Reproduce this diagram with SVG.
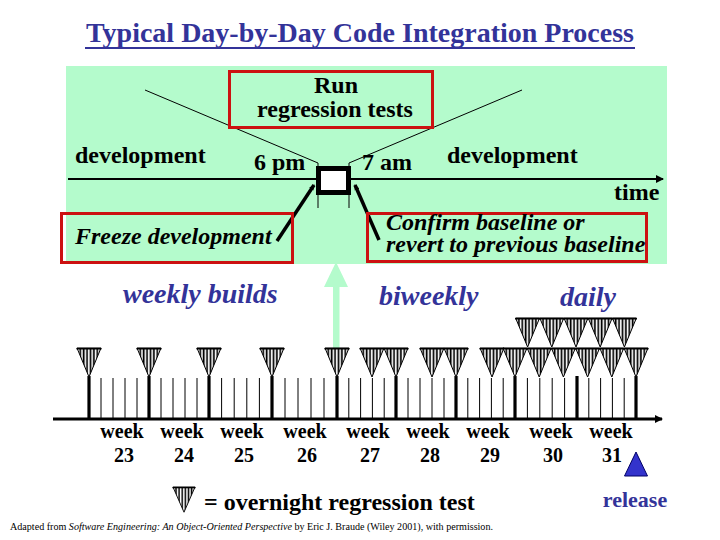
<svg xmlns="http://www.w3.org/2000/svg" width="720" height="540" viewBox="0 0 720 540">
<style>
.b{font-family:"Liberation Serif","Times New Roman",serif;font-weight:bold;fill:#000}
.bi{font-family:"Liberation Serif","Times New Roman",serif;font-weight:bold;font-style:italic}
.blue{fill:#333399}
.red{fill:none;stroke:#cc1111;stroke-width:3}
.thin{stroke:#000;stroke-width:1;fill:none}
.tick{stroke:#000;stroke-width:1}
.wk{stroke:#000;stroke-width:3.2}
.wl{font-family:"Liberation Serif","Times New Roman",serif;font-weight:bold;font-size:20px;text-anchor:middle}
</style>
<defs>
<pattern id="stripes" patternUnits="userSpaceOnUse" width="3.4" height="10"><rect x="0.6" width="1.7" height="10" fill="#000"/></pattern>
<g id="tri">
<polygon points="-12,0 12,0 0,29" fill="#fff"/>
<polygon points="-12,0 12,0 0,29" fill="url(#stripes)" stroke="#000" stroke-width="1"/>
<line x1="-12.5" y1="0.7" x2="12.5" y2="0.7" stroke="#000" stroke-width="1.6"/>
</g>
<marker id="ah" markerWidth="8" markerHeight="8" refX="7" refY="4" orient="auto" markerUnits="userSpaceOnUse">
<path d="M0,0 L8,4 L0,8 Z" fill="#000"/>
</marker>
<marker id="ah2" markerWidth="6" markerHeight="6" refX="5" refY="3" orient="auto" markerUnits="userSpaceOnUse">
<path d="M0,0.5 L6,3 L0,5.5 Z" fill="#000"/>
</marker>
</defs>

<rect width="720" height="540" fill="#fff"/>

<g id="title">
<text x="86" y="42" class="b blue" font-size="28" textLength="548" lengthAdjust="spacingAndGlyphs">Typical Day-by-Day Code Integration Process</text>
<line x1="85" y1="48" x2="635" y2="48" stroke="#333399" stroke-width="2"/>
</g>

<g id="panel">
<rect x="66" y="66" width="601" height="198" fill="#b4fbcc"/>
</g>

<g id="connectors">
<polyline class="thin" points="145,90 318,163 318,208"/>
<polyline class="thin" points="522,90 349,163 349,208"/>
<line x1="68" y1="179" x2="663" y2="179" stroke="#000" stroke-width="2" marker-end="url(#ah)"/>
<line x1="277" y1="241" x2="314" y2="185" stroke="#000" stroke-width="3.5" marker-end="url(#ah2)"/>
<line x1="379" y1="240" x2="355" y2="185" stroke="#000" stroke-width="3.5" marker-end="url(#ah2)"/>
<rect x="333" y="285" width="6.5" height="63" fill="#b4fbcc"/>
<polygon points="336,262 348,287 324,287" fill="#b4fbcc"/>
</g>

<g id="run-box">
<rect x="229.5" y="71.5" width="203" height="56" class="red"/>
<text x="336" y="93" class="b" font-size="24" text-anchor="middle">Run</text>
<text x="335" y="117" class="b" font-size="24" text-anchor="middle">regression tests</text>
</g>

<g id="integration-point">
<rect x="318.5" y="168.5" width="30" height="24" fill="#fff" stroke="#000" stroke-width="5"/>
</g>

<g id="timeline-labels">
<text x="75" y="163" class="b" font-size="24">development</text>
<text x="254" y="170" class="b" font-size="24">6 pm</text>
<text x="362" y="170" class="b" font-size="24">7 am</text>
<text x="447" y="163" class="b" font-size="24">development</text>
<text x="614" y="200" class="b" font-size="24">time</text>
</g>

<g id="freeze-box">
<rect x="61.5" y="213.5" width="231" height="49" class="red"/>
<text x="75" y="244" class="bi" font-size="24">Freeze development</text>
</g>

<g id="confirm-box">
<rect x="367.5" y="213.5" width="279" height="48" class="red"/>
<text x="386" y="230" class="bi" font-size="24">Confirm baseline or</text>
<text x="386" y="252" class="bi" font-size="24">revert to previous baseline</text>
</g>

<g id="phase-labels">
<text x="123" y="303" class="bi blue" font-size="28">weekly builds</text>
<text x="379" y="305" class="bi blue" font-size="28">biweekly</text>
<text x="560" y="306" class="bi blue" font-size="28">daily</text>
</g>

<g id="schedule">
<g id="ticks">
<line class="tick" x1="101" y1="378" x2="101" y2="419"/><line class="tick" x1="113" y1="378" x2="113" y2="419"/><line class="tick" x1="125" y1="378" x2="125" y2="419"/><line class="tick" x1="137" y1="378" x2="137" y2="419"/>
<line class="tick" x1="161" y1="378" x2="161" y2="419"/><line class="tick" x1="173" y1="378" x2="173" y2="419"/><line class="tick" x1="185" y1="378" x2="185" y2="419"/><line class="tick" x1="197" y1="378" x2="197" y2="419"/>
<line class="tick" x1="221.6" y1="378" x2="221.6" y2="419"/><line class="tick" x1="234.2" y1="378" x2="234.2" y2="419"/><line class="tick" x1="246.8" y1="378" x2="246.8" y2="419"/><line class="tick" x1="259.4" y1="378" x2="259.4" y2="419"/>
<line class="tick" x1="285" y1="378" x2="285" y2="419"/><line class="tick" x1="298" y1="378" x2="298" y2="419"/><line class="tick" x1="311" y1="378" x2="311" y2="419"/><line class="tick" x1="324" y1="378" x2="324" y2="419"/>
<line class="tick" x1="348.8" y1="378" x2="348.8" y2="419"/><line class="tick" x1="360.6" y1="378" x2="360.6" y2="419"/><line class="tick" x1="372.4" y1="378" x2="372.4" y2="419"/><line class="tick" x1="384.2" y1="378" x2="384.2" y2="419"/>
<line class="tick" x1="408" y1="378" x2="408" y2="419"/><line class="tick" x1="420" y1="378" x2="420" y2="419"/><line class="tick" x1="432" y1="378" x2="432" y2="419"/><line class="tick" x1="444" y1="378" x2="444" y2="419"/>
<line class="tick" x1="467.8" y1="378" x2="467.8" y2="419"/><line class="tick" x1="479.6" y1="378" x2="479.6" y2="419"/><line class="tick" x1="491.4" y1="378" x2="491.4" y2="419"/><line class="tick" x1="503.2" y1="378" x2="503.2" y2="419"/>
<line class="tick" x1="527.4" y1="378" x2="527.4" y2="419"/><line class="tick" x1="539.8" y1="378" x2="539.8" y2="419"/><line class="tick" x1="552.2" y1="378" x2="552.2" y2="419"/><line class="tick" x1="564.6" y1="378" x2="564.6" y2="419"/>
<line class="tick" x1="588.8" y1="378" x2="588.8" y2="419"/><line class="tick" x1="600.6" y1="378" x2="600.6" y2="419"/><line class="tick" x1="612.4" y1="378" x2="612.4" y2="419"/><line class="tick" x1="624.2" y1="378" x2="624.2" y2="419"/>
</g>
<g id="week-bounds">
<line class="wk" x1="89" y1="376" x2="89" y2="419"/><line class="wk" x1="149" y1="376" x2="149" y2="419"/><line class="wk" x1="209" y1="376" x2="209" y2="419"/><line class="wk" x1="272" y1="376" x2="272" y2="419"/><line class="wk" x1="337" y1="376" x2="337" y2="419"/>
<line class="wk" x1="396" y1="376" x2="396" y2="419"/><line class="wk" x1="456" y1="376" x2="456" y2="419"/><line class="wk" x1="515" y1="376" x2="515" y2="419"/><line class="wk" x1="577" y1="376" x2="577" y2="419"/><line class="wk" x1="636" y1="376" x2="636" y2="419"/>
</g>
<line x1="53" y1="419" x2="662" y2="419" stroke="#000" stroke-width="3" marker-end="url(#ah)"/>
<g id="tests">
<use href="#tri" x="89" y="348"/><use href="#tri" x="149" y="348"/><use href="#tri" x="209" y="348"/><use href="#tri" x="272" y="348"/><use href="#tri" x="337" y="348"/>
<use href="#tri" x="372" y="348"/><use href="#tri" x="396" y="348"/><use href="#tri" x="432" y="348"/><use href="#tri" x="456" y="348"/><use href="#tri" x="492" y="348"/><use href="#tri" x="515" y="348"/>
<use href="#tri" x="539.2" y="348"/><use href="#tri" x="563.4" y="348"/><use href="#tri" x="587.6" y="348"/><use href="#tri" x="611.8" y="348"/><use href="#tri" x="636" y="348"/>
<use href="#tri" x="527.6" y="318"/><use href="#tri" x="551.8" y="318"/><use href="#tri" x="576" y="318"/><use href="#tri" x="600.2" y="318"/><use href="#tri" x="624.4" y="318"/>
</g>
<g id="week-labels">
<text class="wl" x="122" y="438">week</text><text class="wl" x="124" y="462">23</text>
<text class="wl" x="182" y="438">week</text><text class="wl" x="184" y="462">24</text>
<text class="wl" x="242" y="438">week</text><text class="wl" x="244" y="462">25</text>
<text class="wl" x="305" y="438">week</text><text class="wl" x="307" y="462">26</text>
<text class="wl" x="368" y="438">week</text><text class="wl" x="370" y="462">27</text>
<text class="wl" x="428" y="438">week</text><text class="wl" x="430" y="462">28</text>
<text class="wl" x="488" y="438">week</text><text class="wl" x="490" y="462">29</text>
<text class="wl" x="551" y="438">week</text><text class="wl" x="553" y="462">30</text>
<text class="wl" x="611" y="438">week</text><text class="wl" x="612" y="462">31</text>
</g>
</g>

<g id="release">
<polygon points="636,452 647.5,476 624.5,476" fill="#3333cc" stroke="#000066" stroke-width="1"/>
<text x="635" y="507" class="b blue" font-size="22" text-anchor="middle">release</text>
</g>

<g id="legend">
<use href="#tri" transform="translate(184,487) scale(0.92,0.87)"/>
<text x="204" y="510" class="b" font-size="24">= overnight regression test</text>
</g>

<g id="footer">
<text x="10" y="530" font-family="Liberation Serif,'Times New Roman',serif" font-size="9.5" fill="#000" textLength="483" lengthAdjust="spacingAndGlyphs">Adapted from <tspan font-style="italic">Software Engineering: An Object-Oriented Perspective</tspan> by Eric J. Braude (Wiley 2001), with permission.</text>
</g>
</svg>
